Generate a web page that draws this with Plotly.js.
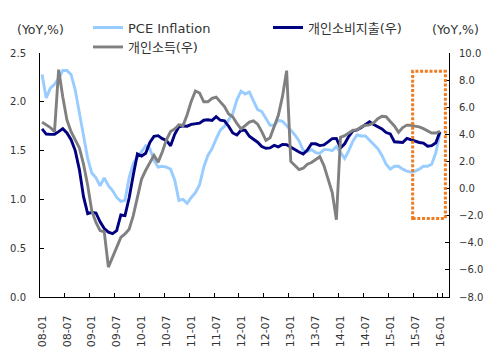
<!DOCTYPE html>
<html><head><meta charset="utf-8">
<script src="https://cdn.plot.ly/plotly-3.0.1.min.js"></script>
<style>html,body{margin:0;padding:0;background:#fff;} #chart{width:490px;height:350px;}</style>
</head><body><div id="chart"></div>
<script>
// month categories 2008-01 .. 2016-01
const startYear = 2008, monthCount = 97;
const months = [];
for (let k = 0; k < monthCount; k++) {
  const y = startYear + Math.floor(k / 12), m = k % 12 + 1;
  months.push(String(y % 100).padStart(2, '0') + '-' + String(m).padStart(2, '0'));
}
const tickLabels = ['08-01','08-07','09-01','09-07','10-01','10-07','11-01','11-07','12-01','12-07','13-01','13-07','14-01','14-07','15-01','15-07','16-01'];

const seriesNames = ['PCE Inflation', '개인소비지출(우)', '개인소득(우)'];

const pceInflation = [2.28,2.04,2.14,2.18,2.24,2.32,2.32,2.28,2.12,1.88,1.66,1.42,1.27,1.22,1.14,1.22,1.14,1.09,1.02,0.98,
  0.99,1.22,1.37,1.43,1.50,1.55,1.52,1.40,1.33,1.34,1.33,1.31,1.20,0.99,1.00,0.96,1.02,1.07,1.15,1.33,
  1.45,1.52,1.62,1.71,1.75,1.81,1.88,2.02,2.11,2.08,2.10,2.01,1.92,1.90,1.83,1.76,1.76,1.81,1.80,1.76,
  1.71,1.66,1.60,1.50,1.49,1.51,1.48,1.47,1.51,1.51,1.50,1.54,1.48,1.42,1.50,1.60,1.66,1.65,1.65,1.61,
  1.57,1.52,1.45,1.36,1.31,1.34,1.34,1.31,1.29,1.28,1.29,1.31,1.34,1.34,1.36,1.48,1.68];

const consumption = [4.40,4.02,4.00,4.00,4.20,4.42,4.10,3.60,2.80,1.40,-0.60,-1.85,-1.75,-1.80,-2.45,-2.95,-3.22,-3.32,-3.10,-1.95,
  -2.00,-0.70,1.00,2.55,2.40,2.60,3.40,3.85,3.90,3.68,3.55,3.15,4.00,4.55,4.62,4.60,4.73,4.79,4.83,5.04,
  5.07,5.03,5.30,5.04,5.00,4.60,4.10,3.95,4.30,4.30,3.86,3.64,3.42,3.10,2.97,3.00,3.19,3.08,3.25,3.24,
  3.05,2.92,2.70,2.55,2.84,3.30,3.30,3.17,3.22,3.45,3.68,3.70,3.00,3.30,3.85,4.25,4.33,4.50,4.73,4.93,
  4.73,4.58,4.40,4.13,4.03,3.45,3.40,3.40,3.70,3.60,3.46,3.40,3.35,3.12,3.17,3.38,4.20];

const income = [4.90,4.72,4.50,4.20,8.77,6.75,5.05,4.20,3.65,3.00,1.80,0.25,-1.65,-2.50,-3.10,-3.20,-5.80,-5.10,-4.35,-3.60,
  -3.35,-3.00,-2.00,-0.65,0.70,1.35,1.90,2.45,1.95,2.70,3.60,4.20,4.40,4.70,4.65,5.45,6.45,7.20,7.05,6.40,
  6.40,6.65,6.75,6.40,6.05,5.50,5.30,4.80,4.40,4.65,4.90,5.00,4.75,4.20,3.55,3.75,4.60,5.40,6.80,8.70,
  2.00,1.72,1.40,1.50,1.80,1.92,2.15,2.35,1.70,0.65,-0.30,-2.30,3.78,3.90,4.10,4.30,4.33,4.55,4.67,4.70,
  4.85,5.15,5.33,5.30,4.95,4.62,4.15,4.50,4.68,4.67,4.60,4.55,4.42,4.28,4.10,4.10,4.23];

const FONT = 'DejaVu Sans, "Noto Sans CJK KR", sans-serif';
const TXT = '#333333';

const traces = [
  {x: months, y: pceInflation, name: seriesNames[0], type: 'scatter', mode: 'lines',
   line: {color: '#99CCFF', width: 2.9}, yaxis: 'y', legend: 'legend'},
  {x: months, y: consumption, name: seriesNames[1], type: 'scatter', mode: 'lines',
   line: {color: '#000080', width: 2.9}, yaxis: 'y2', legend: 'legend'},
  {x: months, y: income, name: seriesNames[2], type: 'scatter', mode: 'lines',
   line: {color: '#808080', width: 2.9}, yaxis: 'y2', legend: 'legend2'}
];

const layout = {
  width: 490, height: 350,
  margin: {l: 40, r: 41, t: 53, b: 53, pad: 0, autoexpand: false},
  paper_bgcolor: '#ffffff', plot_bgcolor: '#ffffff',
  font: {family: FONT, color: TXT},
  showlegend: true,
  xaxis: {
    type: 'category', categoryorder: 'array', categoryarray: months,
    range: [-0.5, 98.17], tickmode: 'array', tickvals: tickLabels, ticktext: tickLabels,
    tickson: 'boundaries', ticks: 'inside', ticklen: 4, tickcolor: '#000', tickwidth: 1,
    tickangle: -90, tickfont: {size: 11, color: TXT}, ticklabelstandoff: 13,
    showline: true, linecolor: '#000', linewidth: 1, showgrid: false, zeroline: false, fixedrange: true,
    automargin: false
  },
  yaxis: {
    range: [0, 2.5], tickmode: 'linear', tick0: 0, dtick: 0.5, tickformat: '.1f',
    ticks: 'inside', ticklen: 4, tickcolor: '#000', tickwidth: 1,
    tickfont: {size: 10, color: TXT}, ticklabelstandoff: 11,
    showline: true, linecolor: '#000', linewidth: 1, showgrid: false, zeroline: false, fixedrange: true,
    automargin: false
  },
  yaxis2: {
    overlaying: 'y', side: 'right', anchor: 'x',
    range: [-8, 10], tickmode: 'linear', tick0: -8, dtick: 2, tickformat: '.1f',
    ticks: 'inside', ticklen: 4, tickcolor: '#000', tickwidth: 1,
    tickfont: {size: 10, color: TXT}, ticklabelstandoff: 7,
    showline: true, linecolor: '#000', linewidth: 1, showgrid: false, zeroline: false, fixedrange: true,
    automargin: false
  },
  legend: {
    orientation: 'h', xref: 'container', yref: 'container',
    x: 88 / 490, y: 1 - 12.5 / 350, xanchor: 'left', yanchor: 'top',
    entrywidth: 135, entrywidthmode: 'pixels', itemwidth: 30,
    font: {size: 13, color: TXT, family: FONT}, bgcolor: 'rgba(0,0,0,0)', borderwidth: 0
  },
  legend2: {
    orientation: 'h', xref: 'container', yref: 'container',
    x: 88 / 490, y: 1 - 32 / 350, xanchor: 'left', yanchor: 'top',
    itemwidth: 30,
    font: {size: 13, color: TXT, family: FONT}, bgcolor: 'rgba(0,0,0,0)', borderwidth: 0
  },
  annotations: [
    {text: '(YoY,%)', xref: 'paper', yref: 'paper', x: 0.0, y: 1.098, xanchor: 'center', yanchor: 'middle',
     showarrow: false, font: {size: 12.5, color: TXT, family: FONT}},
    {text: '(YoY,%)', xref: 'paper', yref: 'paper', x: 1.015, y: 1.096, xanchor: 'center', yanchor: 'middle',
     showarrow: false, font: {size: 12.5, color: TXT, family: FONT}}
  ],
  shapes: [
    {type: 'rect', xref: 'x', yref: 'y2', x0: 89.4, x1: 97.3, y0: -2.2, y1: 8.65,
     line: {color: '#EE7D22', width: 3, dash: '3px,1.7px'}, fillcolor: 'rgba(0,0,0,0)', layer: 'above'}
  ]
};

Plotly.newPlot('chart', traces, layout, {displayModeBar: false, staticPlot: true});
</script>
</body></html>
